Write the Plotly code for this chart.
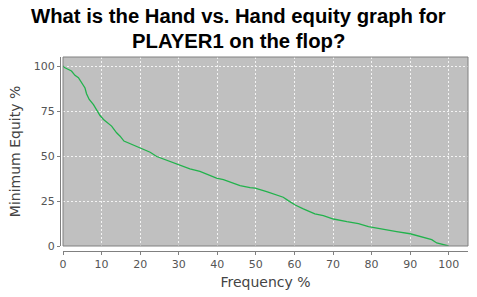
import plotly.graph_objects as go

frequency = [0, 0.5, 2.2, 3.1, 4.0, 4.8, 5.7, 6.1, 6.8, 7.9, 8.7, 9.6, 10.5, 11.8, 12.6, 13.9,
             14.8, 15.8, 17.4, 20.0, 21.3, 22.6, 24.3, 26.9, 30.3, 32.9, 35.5, 38.1, 39.8,
             41.6, 44.2, 45.9, 48.5, 49.8, 52.8, 57.1, 58.4, 60.2, 62.3, 65.3, 67.5, 70.1,
             73.6, 76.6, 79.2, 83.0, 86.5, 90.0, 93.0, 95.6, 96.9, 98.6, 100.0]
min_equity = [100, 99, 97.2, 94.8, 93.5, 91, 87.8, 84.6, 81.4, 78.5, 75.3, 72.5, 70.3, 67.9,
              66.6, 62.9, 61, 58.3, 56.8, 54.4, 53, 52.1, 49.7, 47.5, 44.7, 42.8, 41.4, 39.1,
              37.7, 36.9, 35, 33.6, 32.4, 32.1, 30.2, 27.1, 25.2, 22.8, 20.6, 17.8, 16.9, 15,
              13.5, 12.4, 10.7, 9.5, 8, 6.8, 5.2, 3.5, 1.7, 0.6, 0]
x_ticks = [0, 10, 20, 30, 40, 50, 60, 70, 80, 90, 100]
y_ticks = [0, 25, 50, 75, 100]
title_lines = ["What is the Hand vs. Hand equity graph for", "PLAYER1 on the flop?"]

fig = go.Figure()
fig.add_trace(go.Scatter(x=frequency, y=min_equity, mode="lines",
                         line=dict(color="#22B24C", width=1.3), showlegend=False,
                         hoverinfo="skip"))

W, H = 477, 297
ml, mr, mt, mb = 60, 9, 57, 46
pw = W - ml - mr
ph = H - mt - mb
xoff = 3 / pw
yoff = 5 / ph

tickfont = dict(family="DejaVu Sans", size=11, color="#555555")
axtitlefont = dict(family="DejaVu Sans", size=14, color="#444444")
fig.update_layout(
    width=W, height=H,
    margin=dict(l=ml, r=mr, t=mt, b=mb, pad=0),
    paper_bgcolor="white",
    plot_bgcolor="#C0C0C0",
    xaxis=dict(domain=[xoff, 1], range=[0, 105], tickvals=x_ticks, anchor="free",
               position=0, showline=True, linecolor="#808080", linewidth=1,
               ticks="outside", ticklen=3, tickcolor="#808080", tickfont=tickfont,
               showgrid=True, gridcolor="#F4F4F4", griddash="2px,2px", gridwidth=1,
               zeroline=False, fixedrange=True,
               title=dict(text="Frequency %", font=axtitlefont, standoff=6)),
    yaxis=dict(domain=[yoff, 1], range=[0, 105], tickvals=y_ticks, anchor="free",
               position=0, showline=True, linecolor="#808080", linewidth=1,
               ticks="outside", ticklen=3, tickcolor="#808080", tickfont=tickfont,
               showgrid=True, gridcolor="#F4F4F4", griddash="2px,2px", gridwidth=1,
               zeroline=False, fixedrange=True,
               title=dict(text="Minimum Equity %", font=axtitlefont, standoff=8)),
)
line_y_px = [16, 41]
for txt, ypx in zip(title_lines, line_y_px):
    fig.add_annotation(text=txt, xref="paper", yref="paper",
                       x=(W / 2 - ml) / pw, y=1 + (mt - ypx) / ph,
                       xanchor="center", yanchor="middle", showarrow=False,
                       font=dict(family="Liberation Sans", size=20.3, color="black", weight="bold"))
fig.add_shape(type="rect", xref="x domain", yref="y domain", x0=0, x1=1, y0=0, y1=1,
              line=dict(color="#808080", width=1), fillcolor="rgba(0,0,0,0)", layer="above")

fig.write_html("out.html", config={"displayModeBar": False})
